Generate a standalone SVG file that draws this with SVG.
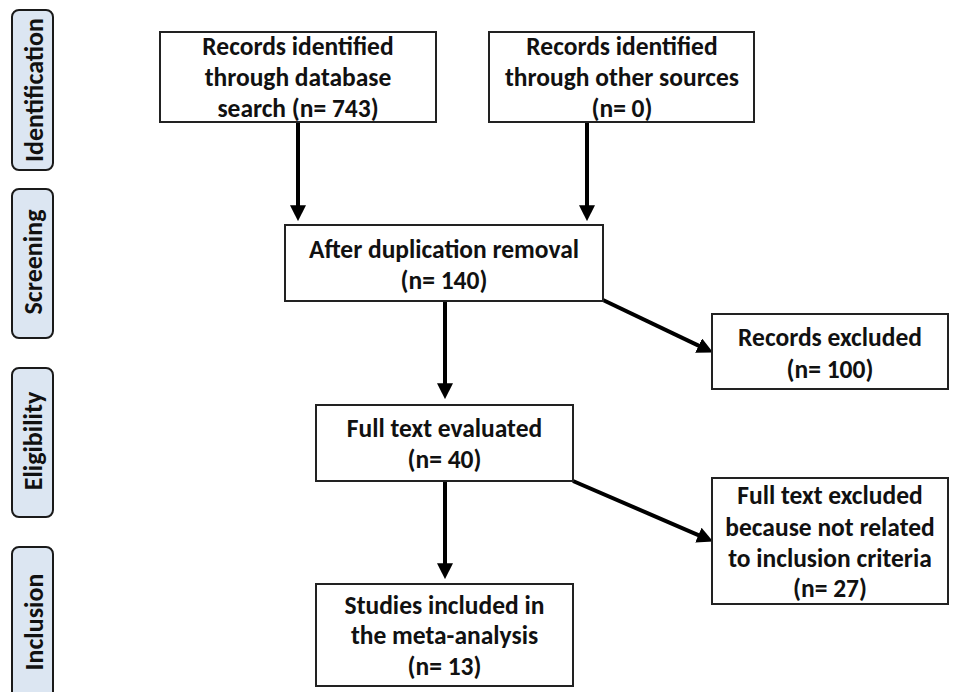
<svg xmlns="http://www.w3.org/2000/svg" width="957" height="692" viewBox="0 0 957 692">
<style>
.bg{fill:#ffffff}
.stage rect{fill:#dce6f2;stroke:#1a1a1a;stroke-width:2}
.stage text{font-family:Carlito,Lato,"Liberation Sans",sans-serif;font-weight:bold;font-size:26px;fill:#111;text-anchor:middle}
.node rect{fill:#ffffff;stroke:#222;stroke-width:2}
.node text{font-family:Carlito,Lato,"Liberation Sans",sans-serif;font-weight:bold;font-size:25.5px;fill:#111;text-anchor:middle}
.conn{stroke:#000;stroke-width:4;fill:none;marker-end:url(#ah)}
</style>
<defs>
<marker id="ah" markerUnits="userSpaceOnUse" markerWidth="16" markerHeight="16" viewBox="0 0 14 14" refX="6" refY="7" orient="auto">
<path d="M0,0 L14,7 L0,14 z" fill="#000"/>
</marker>
</defs>
<rect class="bg" x="0" y="0" width="957" height="692"/>
<g id="stages">
<g id="stage-identification" class="stage"><rect x="12" y="10" width="41" height="160" rx="7"/><text transform="translate(43,90) rotate(-90)">Identification</text></g>
<g id="stage-screening" class="stage"><rect x="12" y="189" width="41" height="149" rx="7"/><text transform="translate(42,262) rotate(-90)">Screening</text></g>
<g id="stage-eligibility" class="stage"><rect x="12" y="368" width="41" height="149" rx="7"/><text transform="translate(42,441) rotate(-90)">Eligibility</text></g>
<g id="stage-inclusion" class="stage"><rect x="12" y="547" width="41" height="160" rx="7"/><text transform="translate(43,622) rotate(-90)">Inclusion</text></g>
</g>
<g id="connectors">
<line class="conn" x1="298" y1="122" x2="298" y2="212"/>
<line class="conn" x1="587" y1="122" x2="587" y2="212"/>
<line class="conn" x1="445" y1="301" x2="445" y2="390"/>
<line class="conn" x1="603" y1="300" x2="704.8" y2="348.6"/>
<line class="conn" x1="445" y1="481" x2="445" y2="570"/>
<line class="conn" x1="573" y1="481" x2="704.7" y2="537.8"/>
</g>
<g id="n-database" class="node"><rect x="160" y="32" width="276" height="90"/>
<text x="298" y="55">Records identified</text><text x="298" y="86">through database</text><text x="298" y="117">search (n= 743)</text></g>
<g id="n-other" class="node"><rect x="489" y="32" width="265" height="90"/>
<text x="622" y="55">Records identified</text><text x="622" y="86">through other sources</text><text x="622" y="117">(n= 0)</text></g>
<g id="n-dedup" class="node"><rect x="285" y="225" width="318" height="76"/>
<text x="444" y="258">After duplication removal</text><text x="444" y="289">(n= 140)</text></g>
<g id="n-excluded" class="node"><rect x="712" y="314" width="236" height="75"/>
<text x="830" y="346">Records excluded</text><text x="830" y="378">(n= 100)</text></g>
<g id="n-fulltext" class="node"><rect x="316" y="405" width="257" height="76"/>
<text x="444.5" y="437">Full text evaluated</text><text x="444.5" y="468">(n= 40)</text></g>
<g id="n-ftexcluded" class="node"><rect x="712" y="478" width="236" height="126"/>
<text x="830" y="504">Full text excluded</text><text x="830" y="536">because not related</text><text x="830" y="567">to inclusion criteria</text><text x="830" y="597">(n= 27)</text></g>
<g id="n-included" class="node"><rect x="316" y="584" width="257" height="102"/>
<text x="444.5" y="614">Studies included in</text><text x="444.5" y="644">the meta-analysis</text><text x="444.5" y="675">(n= 13)</text></g>
</svg>
